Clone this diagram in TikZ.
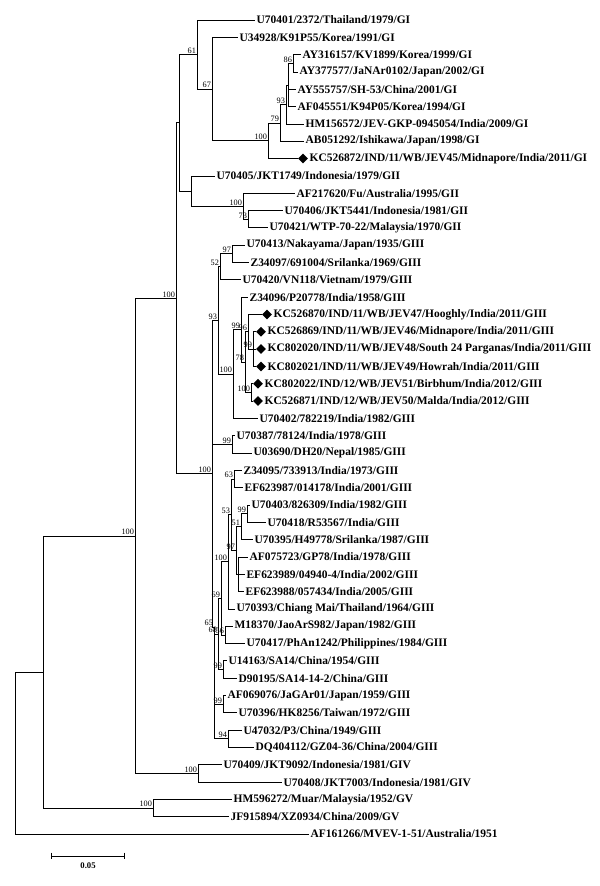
\documentclass[tikz,border=0pt]{standalone}
\usepackage{fontspec}
\setmainfont{Liberation Serif}
\usetikzlibrary{shapes.geometric}

\tikzset{
  leaf/.style={anchor=west, inner sep=1pt, font=\fontsize{8.6}{9.5}\selectfont\bfseries},
  bs/.style={anchor=south east, inner sep=0.6pt, font=\fontsize{6.2}{6.5}\selectfont},
  diam/.style={diamond, fill=black, inner sep=0pt, minimum size=7.5pt},
  br/.style={line width=0.6pt}
}

\begin{document}
\begin{tikzpicture}[x=0.75pt,y=-0.75pt]
\useasboundingbox (0,0) rectangle (600,886);

% taxa
\node[leaf] (L1) at (255,20) {U70401/2372/Thailand/1979/GI};
\node[leaf] (L2) at (238,37.3) {U34928/K91P55/Korea/1991/GI};
\node[leaf] (L3) at (301,54.6) {AY316157/KV1899/Korea/1999/GI};
\node[leaf] (L4) at (298,72.0) {AY377577/JaNAr0102/Japan/2002/GI};
\node[leaf] (L5) at (296,89.3) {AY555757/SH-53/China/2001/GI};
\node[leaf] (L6) at (296,106.6) {AF045551/K94P05/Korea/1994/GI};
\node[leaf] (L7) at (304,123.9) {HM156572/JEV-GKP-0945054/India/2009/GI};
\node[leaf] (L8) at (304,141.2) {AB051292/Ishikawa/Japan/1998/GI};
\node[diam] (D9) at (303,158.6) {};
\node[leaf] (L9) at (308,158.6) {KC526872/IND/11/WB/JEV45/Midnapore/India/2011/GI};
\node[leaf] (L10) at (215,175.9) {U70405/JKT1749/Indonesia/1979/GII};
\node[leaf] (L11) at (295,193.2) {AF217620/Fu/Australia/1995/GII};
\node[leaf] (L12) at (283,210.5) {U70406/JKT5441/Indonesia/1981/GII};
\node[leaf] (L13) at (268,227.8) {U70421/WTP-70-22/Malaysia/1970/GII};
\node[leaf] (L14) at (245,245.2) {U70413/Nakayama/Japan/1935/GIII};
\node[leaf] (L15) at (249,262.5) {Z34097/691004/Srilanka/1969/GIII};
\node[leaf] (L16) at (241,279.8) {U70420/VN118/Vietnam/1979/GIII};
\node[leaf] (L17) at (248,297.1) {Z34096/P20778/India/1958/GIII};
\node[diam] (D18) at (267,314.4) {};
\node[leaf] (L18) at (272,314.4) {KC526870/IND/11/WB/JEV47/Hooghly/India/2011/GIII};
\node[diam] (D19) at (261,331.8) {};
\node[leaf] (L19) at (266,331.8) {KC526869/IND/11/WB/JEV46/Midnapore/India/2011/GIII};
\node[diam] (D20) at (261,349.1) {};
\node[leaf] (L20) at (266,349.1) {KC802020/IND/11/WB/JEV48/South 24 Parganas/India/2011/GIII};
\node[diam] (D21) at (261,366.4) {};
\node[leaf] (L21) at (266,366.4) {KC802021/IND/11/WB/JEV49/Howrah/India/2011/GIII};
\node[diam] (D22) at (258,383.7) {};
\node[leaf] (L22) at (263,383.7) {KC802022/IND/12/WB/JEV51/Birbhum/India/2012/GIII};
\node[diam] (D23) at (258,401.0) {};
\node[leaf] (L23) at (263,401.0) {KC526871/IND/12/WB/JEV50/Malda/India/2012/GIII};
\node[leaf] (L24) at (258,418.4) {U70402/782219/India/1982/GIII};
\node[leaf] (L25) at (235,435.7) {U70387/78124/India/1978/GIII};
\node[leaf] (L26) at (252,453.0) {U03690/DH20/Nepal/1985/GIII};
\node[leaf] (L27) at (242,470.3) {Z34095/733913/India/1973/GIII};
\node[leaf] (L28) at (243,487.6) {EF623987/014178/India/2001/GIII};
\node[leaf] (L29) at (250,505.0) {U70403/826309/India/1982/GIII};
\node[leaf] (L30) at (266,522.3) {U70418/R53567/India/GIII};
\node[leaf] (L31) at (253,539.6) {U70395/H49778/Srilanka/1987/GIII};
\node[leaf] (L32) at (248,556.9) {AF075723/GP78/India/1978/GIII};
\node[leaf] (L33) at (245,574.2) {EF623989/04940-4/India/2002/GIII};
\node[leaf] (L34) at (244,591.6) {EF623988/057434/India/2005/GIII};
\node[leaf] (L35) at (235,608.9) {U70393/Chiang Mai/Thailand/1964/GIII};
\node[leaf] (L36) at (233,626.2) {M18370/JaoArS982/Japan/1982/GIII};
\node[leaf] (L37) at (245,643.5) {U70417/PhAn1242/Philippines/1984/GIII};
\node[leaf] (L38) at (227,660.8) {U14163/SA14/China/1954/GIII};
\node[leaf] (L39) at (237,678.2) {D90195/SA14-14-2/China/GIII};
\node[leaf] (L40) at (226,695.5) {AF069076/JaGAr01/Japan/1959/GIII};
\node[leaf] (L41) at (237,712.8) {U70396/HK8256/Taiwan/1972/GIII};
\node[leaf] (L42) at (242,730.1) {U47032/P3/China/1949/GIII};
\node[leaf] (L43) at (254,747.4) {DQ404112/GZ04-36/China/2004/GIII};
\node[leaf] (L44) at (222,764.8) {U70409/JKT9092/Indonesia/1981/GIV};
\node[leaf] (L45) at (282,782.1) {U70408/JKT7003/Indonesia/1981/GIV};
\node[leaf] (L46) at (232,799.4) {HM596272/Muar/Malaysia/1952/GV};
\node[leaf] (L47) at (229,816.7) {JF915894/XZ0934/China/2009/GV};
\node[leaf] (L48) at (309,834.0) {AF161266/MVEV-1-51/Australia/1951};

% internal nodes
\coordinate (a86) at (293,63.3);
\coordinate (aY) at (288,85.0);
\coordinate (a93) at (286,104.5);
\coordinate (a79) at (280,122.9);
\coordinate (a100) at (268,140.7);
\coordinate (a67) at (212,89.0);
\coordinate (a61) at (197,54.5);
\coordinate (b73) at (248,219.2);
\coordinate (b100) at (243,206.2);
\coordinate (bII) at (191,191.0);
\coordinate (n4) at (179,122.8);
\coordinate (c97) at (232,253.8);
\coordinate (c52) at (220,266.8);
\coordinate (k99) at (253,349.1);
\coordinate (k96) at (248,331.8);
\coordinate (k100) at (251,392.4);
\coordinate (k78) at (245,362.1);
\coordinate (c99) at (241,329.6);
\coordinate (c100) at (233,374.0);
\coordinate (c93) at (218,320.4);
\coordinate (d99a) at (232,444.4);
\coordinate (d63) at (234,479.0);
\coordinate (d99b) at (247,513.7);
\coordinate (d51) at (241,526.7);
\coordinate (dAF) at (238,574.2);
\coordinate (d97) at (236,550.5);
\coordinate (d53) at (231,514.7);
\coordinate (d100) at (228,561.8);
\coordinate (d56) at (225,634.9);
\coordinate (d69) at (221,598.4);
\coordinate (d99c) at (223,669.5);
\coordinate (d99d) at (223,704.2);
\coordinate (d94) at (228,738.8);
\coordinate (d68) at (218,634.0);
\coordinate (d65) at (214,627.0);
\coordinate (g3) at (212,473.7);
\coordinate (n3) at (176,298.3);
\coordinate (e100) at (198,773.5);
\coordinate (n2) at (135,535.9);
\coordinate (f100) at (153,808.1);
\coordinate (n1) at (43,671.9);
\coordinate (root) at (15,753.0);

% branches
\draw[br] (a86) |- (L3.west) (a86) |- (L4.west);
\draw[br] (aY) |- (a86) (aY) |- (L5.west) (aY) |- (L6.west);
\draw[br] (a93) |- (aY) (a93) |- (L7.west);
\draw[br] (a79) |- (a93) (a79) |- (L8.west);
\draw[br] (a100) |- (a79) (a100) |- (D9.west);
\draw[br] (a67) |- (L2.west) (a67) |- (a100);
\draw[br] (a61) |- (L1.west) (a61) |- (a67);
\draw[br] (b73) |- (L12.west) (b73) |- (L13.west);
\draw[br] (b100) |- (L11.west) (b100) |- (b73);
\draw[br] (bII) |- (L10.west) (bII) |- (b100);
\draw[br] (n4) |- (a61) (n4) |- (bII);
\draw[br] (c97) |- (L14.west) (c97) |- (L15.west);
\draw[br] (c52) |- (c97) (c52) |- (L16.west);
\draw[br] (k99) |- (D19.west) (k99) |- (D20.west) (k99) |- (D21.west);
\draw[br] (k96) |- (D18.west) (k96) |- (k99);
\draw[br] (k100) |- (D22.west) (k100) |- (D23.west);
\draw[br] (k78) |- (k96) (k78) |- (k100);
\draw[br] (c99) |- (L17.west) (c99) |- (k78);
\draw[br] (c100) |- (c99) (c100) |- (L24.west);
\draw[br] (c93) |- (c52) (c93) |- (c100);
\draw[br] (d99a) |- (L25.west) (d99a) |- (L26.west);
\draw[br] (d63) |- (L27.west) (d63) |- (L28.west);
\draw[br] (d99b) |- (L29.west) (d99b) |- (L30.west);
\draw[br] (d51) |- (d99b) (d51) |- (L31.west);
\draw[br] (dAF) |- (L32.west) (dAF) |- (L33.west) (dAF) |- (L34.west);
\draw[br] (d97) |- (d51) (d97) |- (dAF);
\draw[br] (d53) |- (d63) (d53) |- (d97);
\draw[br] (d100) |- (d53) (d100) |- (L35.west);
\draw[br] (d56) |- (L36.west) (d56) |- (L37.west);
\draw[br] (d69) |- (d100) (d69) |- (d56);
\draw[br] (d99c) |- (L38.west) (d99c) |- (L39.west);
\draw[br] (d68) |- (d69) (d68) |- (d99c);
\draw[br] (d99d) |- (L40.west) (d99d) |- (L41.west);
\draw[br] (d94) |- (L42.west) (d94) |- (L43.west);
\draw[br] (d65) |- (d68) (d65) |- (d99d) (d65) |- (d94);
\draw[br] (g3) |- (c93) (g3) |- (d99a) (g3) |- (d65);
\draw[br] (n3) |- (n4) (n3) |- (g3);
\draw[br] (e100) |- (L44.west) (e100) |- (L45.west);
\draw[br] (n2) |- (n3) (n2) |- (e100);
\draw[br] (f100) |- (L46.west) (f100) |- (L47.west);
\draw[br] (n1) |- (n2) (n1) |- (f100);
\draw[br] (root) |- (n1) (root) |- (L48.west);

% bootstrap values
\node[bs] (s61) at (a61) {61};
\node[bs] (s67) at (a67) {67};
\node[bs] (s86) at (a86) {86};
\node[bs] (s93a) at (a93) {93};
\node[bs] (s79) at (a79) {79};
\node[bs] (s100a) at (a100) {100};
\node[bs] (s100b) at (b100) {100};
\node[bs] (s73) at (b73) {73};
\node[bs] (s100n3) at (n3) {100};
\node[bs] (s97c) at (c97) {97};
\node[bs] (s52) at (c52) {52};
\node[bs] (s93c) at (c93) {93};
\node[bs] (s99c) at (c99) {99};
\node[bs] (s96) at (k96) {96};
\node[bs] (s99k) at (k99) {99};
\node[bs] (s78) at (k78) {78};
\node[bs] (s100k) at (k100) {100};
\node[bs] (s100c) at (c100) {100};
\node[bs] (s100g) at (g3) {100};
\node[bs] (s99da) at (d99a) {99};
\node[bs] (s63) at (d63) {63};
\node[bs] (s53) at (d53) {53};
\node[bs] (s99db) at (d99b) {99};
\node[bs] (s51) at (d51) {51};
\node[bs] (s97d) at (d97) {97};
\node[bs] (s100d) at (d100) {100};
\node[bs] (s69) at (d69) {69};
\node[bs] (s65) at (d65) {65};
\node[bs] (s68) at (d68) {68};
\node[bs] (s56) at (d56) {56};
\node[bs] (s99dc) at (d99c) {99};
\node[bs] (s99dd) at (d99d) {99};
\node[bs] (s94) at (d94) {94};
\node[bs] (s100n2) at (n2) {100};
\node[bs] (s100e) at (e100) {100};
\node[bs] (s100f) at (f100) {100};

% scale bar
\coordinate (sbL) at (51,856);
\coordinate (sbR) at (124,856);
\draw[br] (sbL) -- (sbR);
\draw[br] ([yshift=2.5pt]sbL) -- ([yshift=-2.5pt]sbL);
\draw[br] ([yshift=2.5pt]sbR) -- ([yshift=-2.5pt]sbR);
\node[font=\fontsize{6.5}{7}\selectfont\bfseries] (sbt) at (88,866) {0.05};
\end{tikzpicture}
\end{document}
